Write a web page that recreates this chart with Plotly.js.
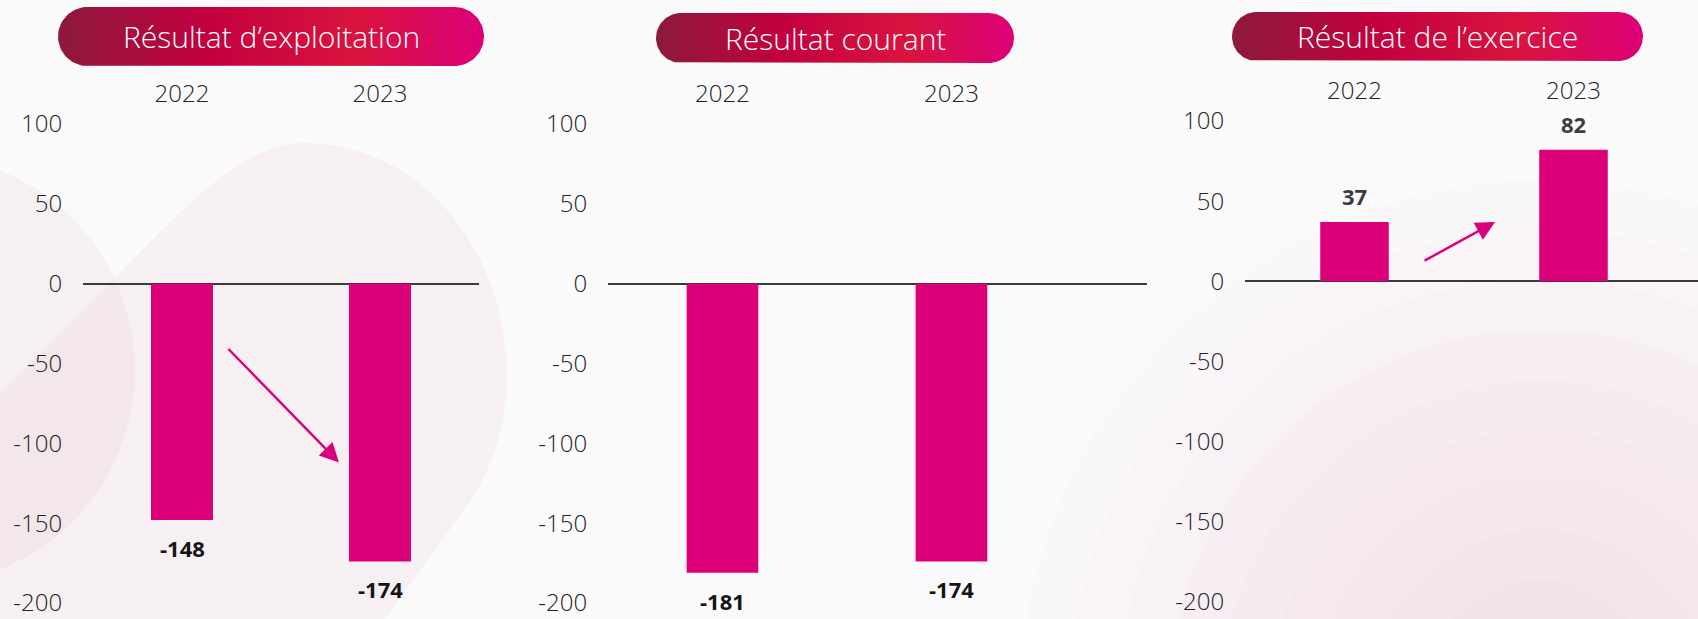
<!DOCTYPE html>
<html><head><meta charset="utf-8">
<script src="https://cdn.plot.ly/plotly-3.0.1.min.js"></script>
<style>html,body{margin:0;padding:0;background:#fafafb;overflow:hidden}#chart{width:1698px;height:619px;}</style>
</head><body><div id="chart"></div>
<script>
// ---- data ----
const years = ['2022', '2023'];
const panelTitles = ['Résultat d’exploitation', 'Résultat courant', 'Résultat de l’exercice'];
const exploitation = [-148, -174];
const courant = [-181, -174];
const exercice = [37, 82];
const yTickVals = [-200, -150, -100, -50, 0, 50, 100];
const yTickText = ['-200', '-150', '-100', '-50', '0', '50', '100'];

// ---- styling ----
const W = 1698, H = 619;
const BAR = '#dc0078';
const FONT = '"Open Sans", sans-serif';
const px = x => x / W;
const py = y => 1 - y / H;

const series = [exploitation, courant, exercice];
const labelColors = ['#151515', '#151515', '#3d3d3d'];

const traces = series.map((vals, i) => ({
  type: 'bar', x: years, y: vals,
  xaxis: 'x' + (i ? i + 1 : ''), yaxis: 'y' + (i ? i + 1 : ''),
  marker: {color: BAR, line: {width: 0}},
  hoverinfo: 'skip'
}));

// decorative title pills (gradient filled)
const pills = [
  {x0: 58, x1: 484, y0: 7, y1: 66},
  {x0: 656, x1: 1014, y0: 13, y1: 63},
  {x0: 1232, x1: 1643, y0: 12, y1: 61}
];
function pillOutline(p) {
  const r = (p.y1 - p.y0) / 2, cy = (p.y0 + p.y1) / 2;
  const xs = [], ys = [];
  const n = 40;
  for (let k = 0; k <= n; k++) {
    const a = -Math.PI / 2 + Math.PI * k / n;
    xs.push(p.x1 - r + r * Math.cos(a)); ys.push(cy + r * Math.sin(a));
  }
  for (let k = 0; k <= n; k++) {
    const a = Math.PI / 2 + Math.PI * k / n;
    xs.push(p.x0 + r + r * Math.cos(a)); ys.push(cy + r * Math.sin(a));
  }
  xs.push(xs[0]); ys.push(ys[0]);
  return {xs, ys};
}
pills.forEach(p => {
  const o = pillOutline(p);
  traces.push({
    type: 'scatter', mode: 'lines', x: o.xs, y: o.ys, xaxis: 'x4', yaxis: 'y4',
    fill: 'toself', line: {width: 0, color: 'rgba(0,0,0,0)'},
    fillgradient: {type: 'horizontal', colorscale: [[0, '#8c1a3b'], [0.35, '#c3003f'], [0.7, '#d8143e'], [1, '#dc0078']]},
    hoverinfo: 'skip', showlegend: false
  });
});

function xAxis(domain, range) {
  return {domain, range, type: 'category', side: 'top', showgrid: false, zeroline: false,
    showline: false, ticks: '', fixedrange: true,
    tickfont: {family: FONT, size: 24, color: '#222', weight: 300}};
}
function yAxis(domain, range, anchor) {
  return {domain, range, anchor, tickvals: yTickVals, ticktext: yTickText, showgrid: false, zeroline: true,
    zerolinecolor: '#3a3a3a', zerolinewidth: 2, showline: false, ticks: 'outside',
    ticklen: 15, tickcolor: 'rgba(0,0,0,0)', fixedrange: true, ticklabeloverflow: 'allow',
    tickfont: {family: FONT, size: 24, color: '#222', weight: 300}};
}

const annotations = [];
pills.forEach((p, i) => {
  annotations.push({xref: 'x4', yref: 'y4', x: (p.x0 + p.x1) / 2, y: (p.y0 + p.y1) / 2,
    text: panelTitles[i], showarrow: false, xanchor: 'center', yanchor: 'middle',
    font: {family: FONT, size: 30, color: '#ffffff', weight: 300}});
});
series.forEach((vals, i) => {
  const s = i ? i + 1 : '';
  vals.forEach((v, j) => {
    annotations.push({xref: 'x' + s, yref: 'y' + s, x: j, y: v, text: String(v),
      showarrow: false, yshift: v < 0 ? -28 : 26,
      font: {family: FONT, size: 22, color: labelColors[i], weight: 700}});
  });
});
// trend arrows
annotations.push({xref: 'x', yref: 'y', axref: 'x', ayref: 'y', x: 0.793, y: -112, ax: 0.227, ay: -40,
  showarrow: true, arrowhead: 2, arrowsize: 1.6, arrowwidth: 2.4, arrowcolor: BAR, text: ''});
annotations.push({xref: 'x3', yref: 'y3', axref: 'x3', ayref: 'y3', x: 0.642, y: 37, ax: 0.313, ay: 12.4,
  showarrow: true, arrowhead: 2, arrowsize: 1.6, arrowwidth: 2.4, arrowcolor: BAR, text: ''});

// faint decorative background shapes
const P = (x, y) => `${px(x)},${py(y)}`;
const shapes = [
  {type: 'circle', xref: 'paper', yref: 'paper', layer: 'below',
   x0: px(-295), x1: px(135), y0: py(585), y1: py(155),
   fillcolor: 'rgba(220,175,190,0.13)', line: {width: 0}},
  {type: 'path', xref: 'paper', yref: 'paper', layer: 'below',
   path: `M ${P(0, 393)} L ${P(120, 273)} C ${P(200, 190)} ${P(250, 143)} ${P(305, 143)} C ${P(420, 143)} ${P(507, 250)} ${P(507, 377)} C ${P(507, 440)} ${P(482, 490)} ${P(455, 522)} L ${P(385, 619)} L ${P(0, 619)} Z`,
   fillcolor: 'rgba(220,175,190,0.12)', line: {width: 0}}
];
[520, 470, 420, 370, 320, 270, 220, 170, 120].forEach(r => shapes.push({type: 'circle', xref: 'paper', yref: 'paper', layer: 'below',
  x0: px(1540 - r), x1: px(1540 + r), y0: py(700 + r), y1: py(700 - r),
  fillcolor: 'rgba(238,190,208,0.05)', line: {width: 0}}));

const layout = {
  width: W, height: H, margin: {l: 0, r: 0, t: 0, b: 0, pad: 0},
  paper_bgcolor: '#fbfafb', plot_bgcolor: 'rgba(0,0,0,0)',
  showlegend: false, bargap: 0.687,
  font: {family: FONT},
  xaxis: Object.assign(xAxis([px(83), px(479)], [-0.5, 1.5]), {anchor: 'y'}),
  yaxis: yAxis([0, py(108)], [-210.02, 110.02], 'x'),
  xaxis2: Object.assign(xAxis([px(608), px(1147)], [-0.5, 1.854]), {anchor: 'y2'}),
  yaxis2: yAxis([0, py(108)], [-210.02, 110.02], 'x2'),
  xaxis3: Object.assign(xAxis([px(1245), 1], [-0.5, 1.5685]), {anchor: 'y3'}),
  yaxis3: yAxis([0, py(105)], [-210.6, 109.98], 'x3'),
  xaxis4: {domain: [0, 1], range: [0, W], visible: false, fixedrange: true, anchor: 'y4'},
  yaxis4: {domain: [0, 1], range: [H, 0], visible: false, fixedrange: true, anchor: 'x4'},
  annotations, shapes
};

Plotly.newPlot('chart', traces, layout, {displayModeBar: false, staticPlot: true});
</script></body></html>
